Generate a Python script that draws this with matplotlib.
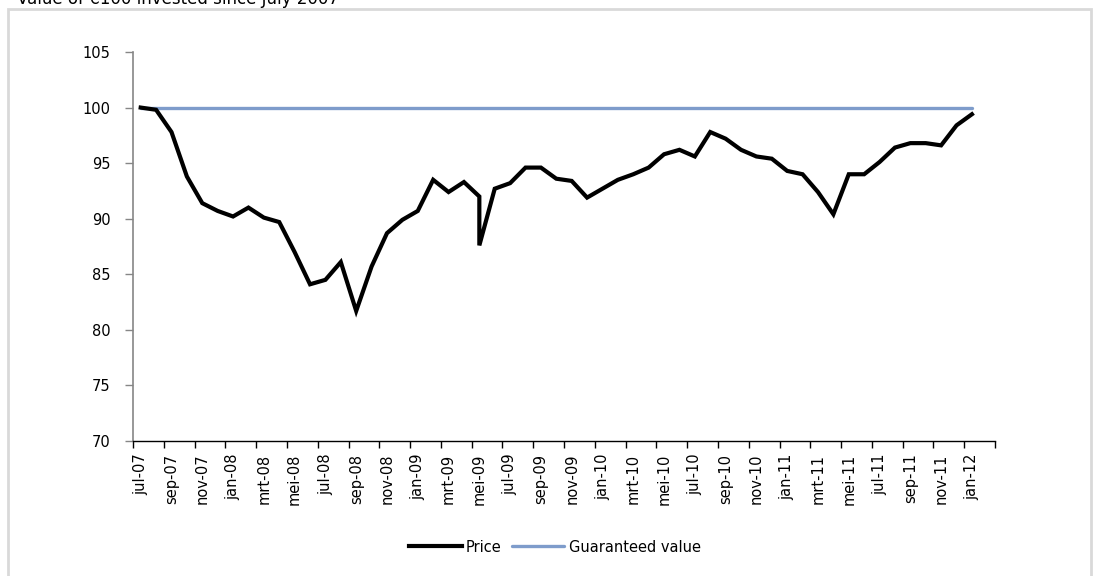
import matplotlib
matplotlib.use("Agg")
import matplotlib.pyplot as plt
from matplotlib.patches import Rectangle
from matplotlib.ticker import FixedLocator

# month of each observation (May 2009 has two quotes)
dates = [
    "2007-07", "2007-08", "2007-09", "2007-10", "2007-11", "2007-12",
    "2008-01", "2008-02", "2008-03", "2008-04", "2008-05", "2008-06",
    "2008-07", "2008-08", "2008-09", "2008-10", "2008-11", "2008-12",
    "2009-01", "2009-02", "2009-03", "2009-04", "2009-05", "2009-05",
    "2009-06", "2009-07", "2009-08", "2009-09", "2009-10", "2009-11",
    "2009-12", "2010-01", "2010-02", "2010-03", "2010-04", "2010-05",
    "2010-06", "2010-07", "2010-08", "2010-09", "2010-10", "2010-11",
    "2010-12", "2011-01", "2011-02", "2011-03", "2011-04", "2011-05",
    "2011-06", "2011-07", "2011-08", "2011-09", "2011-10", "2011-11",
    "2011-12", "2012-01",
]
price = [
    100.0, 99.8, 97.8, 93.8, 91.4, 90.7,
    90.2, 91.0, 90.1, 89.7, 87.0, 84.1,
    84.5, 86.1, 81.7, 85.7, 88.7, 89.9,
    90.7, 93.5, 92.4, 93.3, 92.0, 87.6,
    92.7, 93.2, 94.6, 94.6, 93.6, 93.4,
    91.9, 92.7, 93.5, 94.0, 94.6, 95.8,
    96.2, 95.6, 97.8, 97.2, 96.2, 95.6,
    95.4, 94.3, 94.0, 92.4, 90.4, 94.0,
    94.0, 95.1, 96.4, 96.8, 96.8, 96.6,
    98.4, 99.4,
]
guaranteed = [100.0] * len(dates)

month_names = ["jan", "feb", "mrt", "apr", "mei", "jun",
               "jul", "aug", "sep", "okt", "nov", "dec"]
n_slots = 56  # jul-07 .. feb-12 on the date axis

BLUE = "#7E9CCB"
FONT = "DejaVu Sans"


def month_index(d):
    y, m = map(int, d.split("-"))
    return (y - 2007) * 12 + m - 7


x = [month_index(d) for d in dates]

plt.rcParams["font.family"] = FONT
fig = plt.figure(figsize=(10.95, 5.76), dpi=100)
ax = fig.add_axes([133 / 1095, 1 - 441 / 576, (995 - 133) / 1095, (441 - 52) / 576])

ax.plot(x, price, color="black", lw=3.0, solid_joinstyle="miter", label="Price", zorder=3)
ax.plot(x, guaranteed, color=BLUE, lw=2.4, solid_capstyle="round", label="Guaranteed value", zorder=2)

ax.set_xlim(-0.5, n_slots - 0.5)
ax.set_ylim(70, 105)
ax.set_yticks(range(70, 106, 5))
ax.tick_params(axis="y", length=6, width=1, color="#868686", pad=10, labelsize=10.5)

# labels on every other month, tick marks between categories
lab_pos = list(range(0, n_slots - 1, 2))
labels = []
for i in lab_pos:
    m = (6 + i) % 12
    yr = 2007 + (6 + i) // 12
    labels.append(f"{month_names[m]}-{yr % 100:02d}")
ax.xaxis.set_major_locator(FixedLocator(lab_pos))
ax.set_xticklabels(labels, rotation=90, fontsize=10.5)
ax.tick_params(axis="x", which="major", length=0, pad=9)
ax.xaxis.set_minor_locator(FixedLocator([p - 0.5 for p in range(0, n_slots + 1, 2)]))
ax.tick_params(axis="x", which="minor", length=5, width=1, color="black")

for s in ("top", "right"):
    ax.spines[s].set_visible(False)
ax.spines["left"].set_color("#868686")
ax.spines["left"].set_linewidth(1.2)
ax.spines["bottom"].set_color("black")
ax.spines["bottom"].set_linewidth(1.0)

fig.legend(loc="center", bbox_to_anchor=(555 / 1095, 1 - 547 / 576), ncol=2,
           frameon=False, fontsize=10.5, handlelength=3.6, handletextpad=0.3,
           columnspacing=0.7)

# outer chart-area frame and the clipped title above it
fig.patches.append(Rectangle((8 / 1095, -0.05), (1091 - 8) / 1095, 1.05 - 9 / 576,
                             transform=fig.transFigure, fill=False,
                             edgecolor="#D9D9D9", lw=2.0))
fig.text(17 / 1095, 1 - 3.5 / 576, "Value of €100 invested since July 2007",
         fontsize=12, va="baseline", ha="left", color="black")

fig.savefig("out.png", dpi=100)
